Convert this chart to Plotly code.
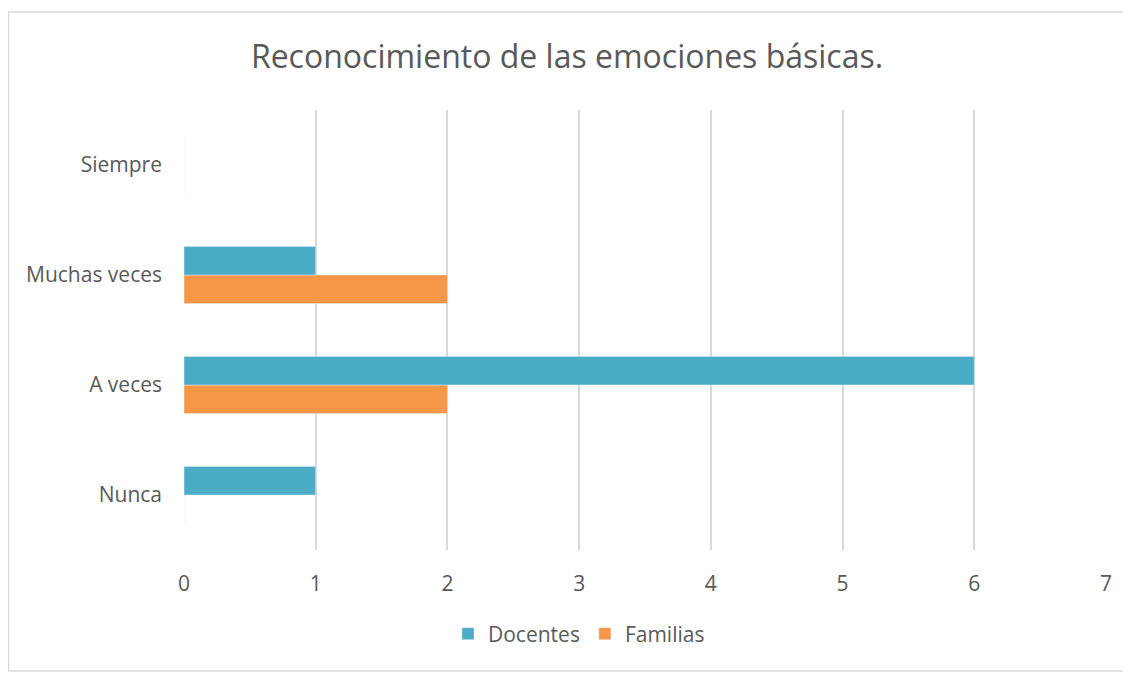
import plotly.graph_objects as go

# Datos
categorias = ["Nunca", "A veces", "Muchas veces", "Siempre"]
docentes = [1, 6, 1, 0]
familias = [0, 2, 2, 0]
ticks_x = [0, 1, 2, 3, 4, 5, 6, 7]

GRIS_TEXTO = "#595959"
GRIS_LINEA = "#D9D9D9"
FUENTE = "Open Sans"

# the page body adds an 8px offset, so the plot area is placed 8px up/left
L, T, PW, PH = 176, 102, 922, 440

fig = go.Figure()
# Familias first so that Docentes sits on top inside each group
fig.add_trace(go.Bar(y=categorias, x=familias, name="Familias", orientation="h",
                     marker_color="#F79646"))
fig.add_trace(go.Bar(y=categorias, x=docentes, name="Docentes", orientation="h",
                     marker_color="#4BACC6"))

fig.update_layout(
    width=1131, height=673,
    margin=dict(l=L, r=1131 - L - PW, t=T, b=673 - T - PH),
    paper_bgcolor="white", plot_bgcolor="white",
    barmode="group", bargap=0.48, bargroupgap=0,
    font=dict(family=FUENTE, color=GRIS_TEXTO, size=21),
    title=dict(text="Reconocimiento de las emociones básicas.",
               x=(567 - 8) / 1131, xanchor="center", y=1 - 49 / 673, yanchor="middle",
               font=dict(family=FUENTE, size=32, color=GRIS_TEXTO)),
    legend=dict(orientation="h", traceorder="reversed",
                x=(579 - 8 - L) / PW, xanchor="center",
                y=(T + PH - 626) / PH, yanchor="middle",
                font=dict(size=21, color=GRIS_TEXTO)),
    xaxis=dict(range=[0, 7], tickvals=ticks_x, showgrid=True, gridcolor=GRIS_LINEA,
               gridwidth=2, zeroline=False, showline=False, ticks="",
               ticklabelstandoff=19, fixedrange=True),
    yaxis=dict(categoryorder="array", categoryarray=categorias, showgrid=False,
               zeroline=False, showline=False, ticks="", ticklabelstandoff=21),
    shapes=[dict(type="rect", xref="paper", yref="paper",
                 x0=(0.5 - L) / PW, x1=(1140 - L) / PW,
                 y0=(T + PH - 663) / PH, y1=(T + PH - 4) / PH,
                 line=dict(color=GRIS_LINEA, width=1.5), layer="below")],
)

fig.write_html("out.html")
